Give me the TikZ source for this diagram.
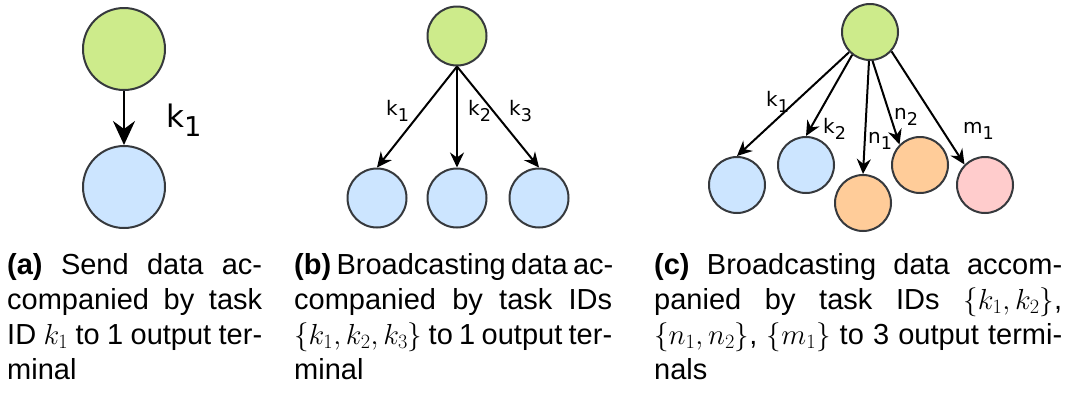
\RequirePackage{fix-cm}
\documentclass[tikz,border=0pt]{standalone}
\usepackage[no-math]{fontspec}
\setmainfont{Liberation Sans}
\newfontfamily\lblfont{DejaVu Sans}
\usetikzlibrary{arrows.meta}

\definecolor{srcfill}{HTML}{CDEB8B}
\definecolor{bluefill}{HTML}{CCE5FF}
\definecolor{orangefill}{HTML}{FFCC99}
\definecolor{pinkfill}{HTML}{FFCCCC}
\definecolor{rim}{HTML}{36393D}

% one justified caption line of a given width (font's own stretchable spaces)
\newcommand\jline[2]{\makebox[#1][s]{\spaceskip=0pt\xspaceskip=0pt\relax #2}}
% lowered index digit of an edge label
\newcommand\lsub[1]{\raisebox{-0.3em}{\scalebox{0.88}{#1}}}

\tikzset{
  term/.style={circle, draw=rim, line width=2pt, inner sep=0pt},
  bigterm/.style={term, minimum size=82pt},
  midterm/.style={term, minimum size=59pt},
  smallterm/.style={term, minimum size=56pt},
  flow/.style={-{Stealth[length=15pt,width=14pt,inset=5pt]}, line width=2pt, black},
  bigflow/.style={-{Stealth[length=24pt,width=22pt,inset=8pt]}, line width=2.6pt, black},
  biglbl/.style={anchor=base west, inner sep=0pt, font=\lblfont\fontsize{31pt}{36pt}\selectfont},
  lbl/.style={anchor=base west, inner sep=0pt, font=\lblfont\fontsize{20pt}{24pt}\selectfont},
  captext/.style={anchor=north west, inner sep=0pt, align=left,
    font=\fontsize{29pt}{35pt}\selectfont},
}

\begin{document}
\begin{tikzpicture}[x=1pt, y=-1pt]
\useasboundingbox (0,0) rectangle (1073,392);

% (a) one output terminal
\node[bigterm, fill=srcfill]  (a0) at (124,49) {};
\node[bigterm, fill=bluefill] (a1) at (124,187) {};
\draw[bigflow] (a0) -- (a1);
\node[biglbl] (la1) at (166,127) {k\lsub{1}};

% (b) broadcast to one output terminal
\node[midterm, fill=srcfill]  (b0) at (457,36) {};
\node[midterm, fill=bluefill] (b1) at (377,198) {};
\node[midterm, fill=bluefill] (b2) at (457,198) {};
\node[midterm, fill=bluefill] (b3) at (539,198) {};
\draw[flow] (b0.south) -- (b1.north);
\draw[flow] (b0.south) -- (b2.north);
\draw[flow] (b0.south) -- (b3.north);
\node[lbl] (lb1) at (386,115) {k\lsub{1}};
\node[lbl] (lb2) at (468,115) {k\lsub{2}};
\node[lbl] (lb3) at (509,115) {k\lsub{3}};

% (c) broadcast to three output terminals
\node[smallterm, fill=srcfill]    (c0) at (870,32) {};
\node[smallterm, fill=bluefill]   (c1) at (737,185) {};
\node[smallterm, fill=bluefill]   (c2) at (806,165) {};
\node[smallterm, fill=orangefill] (c3) at (863,203) {};
\node[smallterm, fill=orangefill] (c4) at (920,165) {};
\node[smallterm, fill=pinkfill]   (c5) at (985,185) {};
\draw[flow] (c0.224) -- (c1.north);
\draw[flow] (c0.232) -- (c2.north);
\draw[flow] (c0.268) -- (c3.north);
\draw[flow] (c0.275) -- (c4.135);
\draw[flow] (c0.318) -- (c5.135);
\node[lbl] (lc1) at (766,106) {k\lsub{1}};
\node[lbl] (lc2) at (823,133) {k\lsub{2}};
\node[lbl] (lc3) at (868,143) {n\lsub{1}};
\node[lbl] (lc4) at (894,119) {n\lsub{2}};
\node[lbl] (lc5) at (963,133) {m\lsub{1}};

% captions
\node[captext, text width=255pt] (capa) at (7,252) {%
  \rule{0pt}{22pt}\jline{255pt}{\textbf{(a)} Send data ac-}\\
  \jline{255pt}{companied by task}\\
  \jline{255pt}{ID $k_1$ to 1 output ter-}\\
  minal};
\node[captext, text width=318pt] (capb) at (294,252) {%
  \rule{0pt}{22pt}\jline{318pt}{\textbf{(b)} Broadcasting data ac-}\\
  \jline{318pt}{companied by task IDs}\\
  \jline{318pt}{$\{k_1,k_2,k_3\}$ to 1 output ter-}\\
  minal};
\node[captext, text width=408pt] (capc) at (654,252) {%
  \rule{0pt}{22pt}\jline{408pt}{\textbf{(c)} Broadcasting data accom-}\\
  \jline{408pt}{panied by task IDs $\{k_1,k_2\}$,}\\
  \jline{408pt}{$\{n_1,n_2\}$, $\{m_1\}$ to 3 output termi-}\\
  nals};
\end{tikzpicture}
\end{document}
